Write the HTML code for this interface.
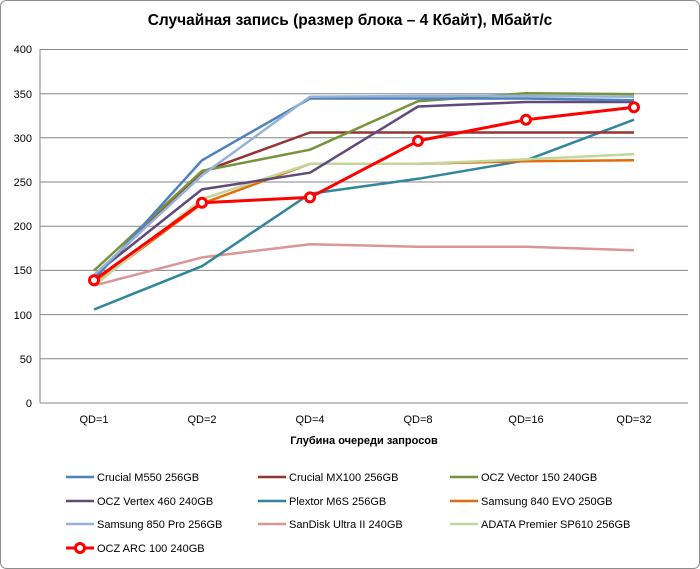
<!DOCTYPE html>
<html><head><meta charset="utf-8"><style>
body{margin:0;background:#fff}
svg{display:block;font-family:"Liberation Sans",sans-serif}
</style></head><body>
<svg width="700" height="569" viewBox="0 0 700 569">
<rect x="0.5" y="0.5" width="699" height="568" rx="6" fill="#fff" stroke="#8c8c8c"/>
<text x="350" y="25" font-size="15.5" font-weight="bold" text-anchor="middle">Случайная запись (размер блока – 4 Кбайт), Мбайт/с</text>
<g stroke="#868686" stroke-width="1">
<line x1="40" y1="49.5" x2="688" y2="49.5"/><line x1="40" y1="93.7" x2="688" y2="93.7"/>
<line x1="40" y1="137.8" x2="688" y2="137.8"/><line x1="40" y1="182" x2="688" y2="182"/>
<line x1="40" y1="226.2" x2="688" y2="226.2"/><line x1="40" y1="270.4" x2="688" y2="270.4"/>
<line x1="40" y1="314.6" x2="688" y2="314.6"/><line x1="40" y1="358.7" x2="688" y2="358.7"/>
<line x1="40" y1="403" x2="688" y2="403"/><line x1="40" y1="49" x2="40" y2="403"/>
</g>
<g font-size="11" text-anchor="end">
<text x="32" y="53">400</text><text x="32" y="98">350</text><text x="32" y="142">300</text>
<text x="32" y="186">250</text><text x="32" y="230">200</text><text x="32" y="274">150</text>
<text x="32" y="319">100</text><text x="32" y="363">50</text><text x="32" y="407">0</text>
</g>
<g font-size="11" text-anchor="middle">
<text x="94" y="423">QD=1</text><text x="202" y="423">QD=2</text><text x="310" y="423">QD=4</text>
<text x="418" y="423">QD=8</text><text x="526" y="423">QD=16</text><text x="634" y="423">QD=32</text>
</g>
<text x="364" y="444" font-size="11" font-weight="bold" text-anchor="middle">Глубина очереди запросов</text>
<g fill="none" stroke-width="2.5" stroke-linejoin="round">
<polyline stroke="#d99694" points="94,285.6 202,257.4 310,244.2 418,246.8 526,246.8 634,250.3"/>
<polyline stroke="#31859c" points="94,309.5 202,266.2 310,193.8 418,178.8 526,160.3 634,119.7"/>
<polyline stroke="#e46c0a" points="94,283.9 202,203.6 310,163.8 418,163.8 526,161.2 634,160.3"/>
<polyline stroke="#c3d69b" points="94,285.6 202,199.1 310,163.8 418,163.8 526,159.4 634,154.1"/>
<polyline stroke="#943634" points="94,276.8 202,171.8 310,132.5 418,132.5 526,132.5 634,132.5"/>
<polyline stroke="#604a7b" points="94,275 202,189.4 310,172.7 418,106.5 526,102 634,102"/>
<polyline stroke="#77933c" points="94,270.6 202,170.9 310,149.7 418,101.2 526,93.2 634,94.1"/>
<polyline stroke="#4f81bd" points="94,279.5 202,160.3 310,98.5 418,98.5 526,98.5 634,100.3"/>
<polyline stroke="#95b3d7" points="94,275 202,175.3 310,96.8 418,95.9 526,95.9 634,96.8"/>
<polyline stroke="#ff0000" stroke-width="3" points="94,280.3 202,202.7 310,197.4 418,140.9 526,119.7 634,107.3"/>
</g>
<g fill="#fff" stroke="#ff0000" stroke-width="3">
<circle cx="94" cy="280.3" r="4.5"/><circle cx="202" cy="202.7" r="4.5"/><circle cx="310" cy="197.4" r="4.5"/>
<circle cx="418" cy="140.9" r="4.5"/><circle cx="526" cy="119.7" r="4.5"/><circle cx="634" cy="107.3" r="4.5"/>
</g>
<g font-size="11">
<line x1="66" y1="477" x2="94" y2="477" stroke="#4f81bd" stroke-width="2.5"/><text x="97" y="481">Crucial M550 256GB</text>
<line x1="258" y1="477" x2="286" y2="477" stroke="#943634" stroke-width="2.5"/><text x="289" y="481">Crucial MX100 256GB</text>
<line x1="450" y1="477" x2="478" y2="477" stroke="#77933c" stroke-width="2.5"/><text x="481" y="481">OCZ Vector 150 240GB</text>
<line x1="66" y1="501" x2="94" y2="501" stroke="#604a7b" stroke-width="2.5"/><text x="97" y="505">OCZ Vertex 460 240GB</text>
<line x1="258" y1="501" x2="286" y2="501" stroke="#31859c" stroke-width="2.5"/><text x="289" y="505">Plextor M6S 256GB</text>
<line x1="450" y1="501" x2="478" y2="501" stroke="#e46c0a" stroke-width="2.5"/><text x="481" y="505">Samsung 840 EVO 250GB</text>
<line x1="66" y1="524" x2="94" y2="524" stroke="#95b3d7" stroke-width="2.5"/><text x="97" y="528">Samsung 850 Pro 256GB</text>
<line x1="258" y1="524" x2="286" y2="524" stroke="#d99694" stroke-width="2.5"/><text x="289" y="528">SanDisk Ultra II 240GB</text>
<line x1="450" y1="524" x2="478" y2="524" stroke="#c3d69b" stroke-width="2.5"/><text x="481" y="528">ADATA Premier SP610 256GB</text>
<line x1="66" y1="548" x2="94" y2="548" stroke="#ff0000" stroke-width="3"/><circle cx="80" cy="548" r="4.5" fill="#fff" stroke="#ff0000" stroke-width="3"/><text x="97" y="552">OCZ ARC 100 240GB</text>
</g>
</svg>
</body></html>
